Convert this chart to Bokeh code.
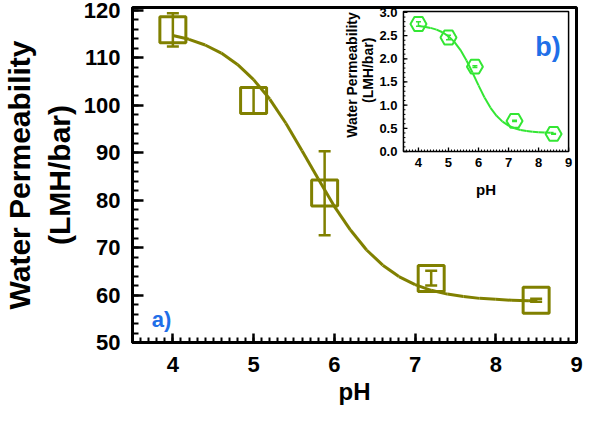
import math
from bokeh.plotting import figure
from bokeh.models import (ColumnDataSource, Whisker, TeeHead, Label, Range1d,
                          SingleIntervalTicker)
from bokeh.core.properties import value
from bokeh.embed import file_html
from bokeh.resources import INLINE

# ---------------- data (main plot a) ----------------
ph = [4.0, 5.0, 5.88, 7.2, 8.5]
perm = [115.9, 101.0, 81.5, 63.5, 58.9]
perm_lo = [112.4, 98.3, 72.6, 62.0, 58.6]
perm_hi = [119.4, 103.7, 90.3, 65.1, 59.2]

fit_ph = [4.0, 4.2, 4.4, 4.6, 4.8, 5.0, 5.2, 5.4, 5.6, 5.8, 6.0, 6.2, 6.4,
          6.6, 6.8, 7.0, 7.2, 7.4, 7.6, 7.8, 8.0, 8.2, 8.4, 8.5]
fit_perm = [114.7, 113.9, 112.7, 111.0, 108.6, 105.4, 101.3, 96.2, 90.4,
            84.5, 78.7, 73.7, 69.5, 66.3, 63.9, 62.2, 61.0, 60.2, 59.7,
            59.3, 59.1, 58.9, 58.8, 58.8]

# ---------------- data (inset b) ----------------
perm_b = [2.75, 2.46, 1.83, 0.66, 0.38]
perm_b_lo = [2.70, 2.41, 1.81, 0.645, 0.37]
perm_b_hi = [2.80, 2.51, 1.85, 0.675, 0.39]

fit_b = [2.705, 2.690, 2.666, 2.629, 2.572, 2.485, 2.360, 2.187, 1.964,
         1.703, 1.427, 1.166, 0.943, 0.770, 0.645, 0.558, 0.501, 0.464,
         0.440, 0.425, 0.416, 0.410, 0.406, 0.405]

inset_x_ticks = [4, 5, 6, 7, 8, 9]
inset_x_labels = ["4", "5", "6", "7", "8", "9"]
inset_y_ticks = [0.0, 0.5, 1.0, 1.5, 2.0, 2.5, 3.0]
inset_y_labels = ["0.0", "0.5", "1.0", "1.5", "2.0", "2.5", "3.0"]

x_label = "pH"
y_label_1 = "Water Permeability"
y_label_2 = "(LMH/bar)"

OLIVE = "#808000"
GREEN = "#33e633"
BLUE = "#1f6fe8"
INK = "#000000"
FONT = "Liberation Sans"

# ---------------- geometry (pixels inside the figure) ----------------
W, H = 584, 412
BL, BR, BT, BB = 127, 8, 7, 70             # main borders
F_L, F_R, F_T, F_B = BL, W - BR, BT, H - BB  # main frame
I_L, I_R, I_T, I_B = 401, 568, 11, 151     # inset frame
X0, X1 = 3.5, 9.0                          # pH range (both panels)
IY0, IY1 = 0.0, 3.02                       # inset y range

kx = (I_R - I_L) / (X1 - X0)
ky = (I_B - I_T) / (IY1 - IY0)
ix_range = Range1d(X0 - (I_L - F_L) / kx, X1 + (F_R - I_R) / kx)
iy_range = Range1d(IY0 - (F_B - I_B) / ky, IY1 + (I_T - F_T) / ky)

# ---------------- main figure ----------------
p = figure(width=W, height=H, output_backend="svg", toolbar_location=None,
           x_range=Range1d(X0, X1), y_range=Range1d(50, 120.6),
           min_border_left=BL, min_border_right=BR, min_border_top=BT,
           min_border_bottom=BB)
p.extra_x_ranges = {"ix": ix_range}
p.extra_y_ranges = {"iy": iy_range}
p.grid.visible = False
p.outline_line_color = INK
p.outline_line_width = 3

p.xaxis.ticker = SingleIntervalTicker(interval=1, num_minor_ticks=10)
p.yaxis.ticker = SingleIntervalTicker(interval=10, num_minor_ticks=5)
for ax in (p.xaxis[0], p.yaxis[0]):
    ax.axis_line_color = INK
    ax.major_tick_line_color = INK
    ax.minor_tick_line_color = INK
    ax.axis_line_width = 3
    ax.major_tick_out = 0
    ax.minor_tick_out = 0
    ax.major_tick_line_width = 2.5
    ax.minor_tick_line_width = 2
    ax.major_label_text_font = FONT
    ax.major_label_text_font_style = "bold"
    ax.major_label_text_font_size = "22px"
    ax.major_label_text_color = "#000000"
    ax.axis_label_text_font = FONT
    ax.axis_label_text_font_style = "bold"
    ax.axis_label_text_color = "#000000"
p.xaxis.major_tick_in = 9
p.xaxis.minor_tick_in = 5
p.yaxis.major_tick_in = 11
p.yaxis.minor_tick_in = 6
p.xaxis.major_label_standoff = 14
p.yaxis.major_label_standoff = 12
p.xaxis.axis_label = x_label
p.xaxis.axis_label_text_font_size = "24px"
p.xaxis.axis_label_standoff = 3
p.yaxis.axis_label = y_label_1 + "\n" + y_label_2
p.yaxis.axis_label_text_font_size = "30px"
p.yaxis.axis_label_standoff = 5

src = ColumnDataSource(dict(x=ph, y=perm, lo=perm_lo, hi=perm_hi))
fit_src = ColumnDataSource(dict(x0=fit_ph[:-1], y0=fit_perm[:-1],
                                x1=fit_ph[1:], y1=fit_perm[1:]))
p.segment(x0="x0", y0="y0", x1="x1", y1="y1", source=fit_src,
          line_color=OLIVE, line_width=3)
p.add_layout(Whisker(base="x", lower="lo", upper="hi", source=src,
                     dimension="height", line_color=OLIVE, line_width=2.5,
                     upper_head=TeeHead(size=12, line_color=OLIVE, line_width=2.5),
                     lower_head=TeeHead(size=12, line_color=OLIVE, line_width=2.5)))
p.scatter("x", "y", source=src, marker="square", size=26, fill_alpha=0,
          line_color=OLIVE, line_width=3)
p.add_layout(Label(x=3.74, y=54.8, text="a)", text_color=BLUE,
                   text_font=FONT, text_font_style="bold",
                   text_font_size="22px", text_baseline="alphabetic"))

# ---------------- inset (b), drawn on its own ranges ----------------
R = dict(x_range_name="ix", y_range_name="iy")
p.quad(left=[X0], right=[X1], bottom=[IY0], top=[IY1], fill_color="white",
       line_color=INK, line_width=1.5, **R)

x_minor = [round(X0 + 0.1 * i, 2) for i in range(int(round((X1 - X0) / 0.1)) + 1)]
y_minor = [round(IY0 + 0.1 * i, 2) for i in range(31)]
p.ray(x=x_minor, y=[IY0] * len(x_minor), length=2, length_units="screen",
      angle=math.pi / 2, line_color=INK, line_width=1, **R)
p.ray(x=inset_x_ticks, y=[IY0] * len(inset_x_ticks), length=4,
      length_units="screen", angle=math.pi / 2, line_color=INK,
      line_width=1.3, **R)
p.ray(x=[X0] * len(y_minor), y=y_minor, length=2, length_units="screen",
      angle=0, line_color=INK, line_width=1, **R)
p.ray(x=[X0] * len(inset_y_ticks), y=inset_y_ticks, length=4,
      length_units="screen", angle=0, line_color=INK, line_width=1.3, **R)

txt = dict(text_font=value(FONT), text_font_style="bold", text_color="#000000")
p.text(x=inset_x_ticks, y=[IY0] * len(inset_x_ticks), text=inset_x_labels,
       y_offset=6, text_align="center", text_baseline="top",
       text_font_size="13px", **txt, **R)
p.text(x=[X0] * len(inset_y_ticks), y=inset_y_ticks, text=inset_y_labels,
       x_offset=-6, text_align="right", text_baseline="middle",
       text_font_size="13px", **txt, **R)
p.text(x=[(X0 + X1) / 2], y=[IY0], text=[x_label], y_offset=29,
       text_align="center", text_baseline="top", text_font_size="15px",
       **txt, **R)
p.text(x=[X0], y=[1.65], text=[y_label_1], x_offset=-51, angle=math.pi / 2,
       text_align="center", text_baseline="middle", text_font_size="14px",
       **txt, **R)
p.text(x=[X0], y=[1.75], text=[y_label_2], x_offset=-35, angle=math.pi / 2,
       text_align="center", text_baseline="middle", text_font_size="14px",
       **txt, **R)

src_b = ColumnDataSource(dict(x=ph, y=perm_b, lo=perm_b_lo, hi=perm_b_hi))
fit_b_src = ColumnDataSource(dict(x0=fit_ph[:-1], y0=fit_b[:-1],
                                  x1=fit_ph[1:], y1=fit_b[1:]))
p.segment(x0="x0", y0="y0", x1="x1", y1="y1", source=fit_b_src,
          line_color=GREEN, line_width=2, **R)
p.segment(x0="x", y0="lo", x1="x", y1="hi", source=src_b, line_color=GREEN,
          line_width=1.5, **R)
p.scatter("x", "lo", source=src_b, marker="dash", size=5, line_color=GREEN,
          line_width=1.5, **R)
p.scatter("x", "hi", source=src_b, marker="dash", size=5, line_color=GREEN,
          line_width=1.5, **R)
p.scatter("x", "y", source=src_b, marker="hex", size=16, fill_alpha=0,
          line_color=GREEN, line_width=2, **R)
p.text(x=[7.89], y=[2.26], text=["b)"], text_color=BLUE,
       text_font=value(FONT), text_font_style="bold", text_font_size="27px",
       text_baseline="alphabetic", **R)

open("out.html", "w").write(file_html(p, INLINE))
